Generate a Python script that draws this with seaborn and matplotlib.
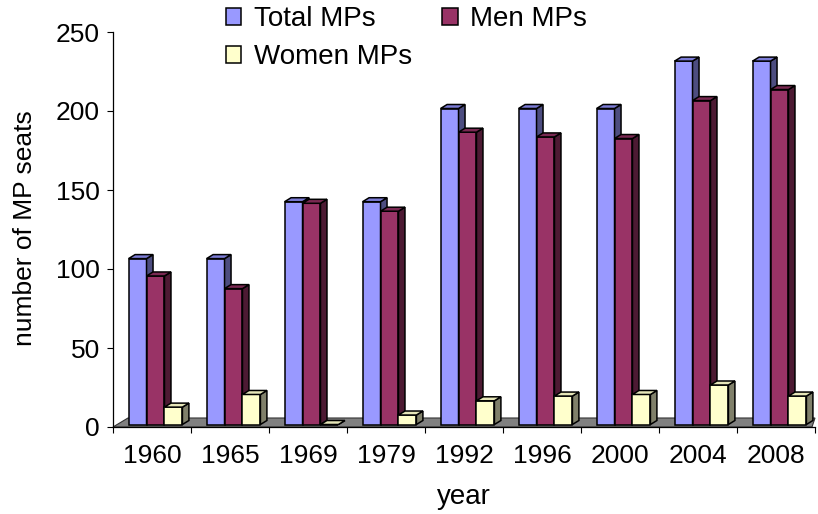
import numpy as np
import pandas as pd
import matplotlib
matplotlib.use("Agg")
import matplotlib.pyplot as plt
import matplotlib.transforms as mtransforms
from matplotlib.patches import Polygon, Patch
import seaborn as sns

years = ["1960", "1965", "1969", "1979", "1992", "1996", "2000", "2004", "2008"]
total_mps = [105, 105, 141, 141, 200, 200, 200, 230, 230]
men_mps = [94, 86, 140, 135, 185, 182, 181, 205, 212]
women_mps = [11, 19, 0, 6, 15, 18, 19, 25, 18]
series = ["Total MPs", "Men MPs", "Women MPs"]
y_ticks = [0, 50, 100, 150, 200, 250]

colors = ["#9999FF", "#993366", "#FFFFCC"]
side_colors = ["#4D4D80", "#4D1A33", "#80806A"]
top_colors = ["#7C7CD6", "#7A2952", "#E6E6B8"]

df = pd.DataFrame({
    "year": years * 3,
    "series": np.repeat(series, len(years)),
    "seats": total_mps + men_mps + women_mps,
})

sns.set_style("white")
plt.rcParams["font.family"] = ["Liberation Sans", "DejaVu Sans"]

W, H = 818, 514
fig = plt.figure(figsize=(W / 100, H / 100), dpi=100)
# axes box in pixels: x 113..815, y 32..427
ax = fig.add_axes([113 / W, (H - 427) / H, 702 / W, 395 / H])

sns.barplot(data=df, x="year", y="seats", hue="series", order=years,
            hue_order=series, palette=colors, saturation=1, width=0.69,
            errorbar=None, edgecolor="black", linewidth=1.1, legend=False, ax=ax)

ax.set_xlim(-0.5, len(years) - 0.5)
ax.set_ylim(0, 250)

# fake 3D look: floor, shifted front faces, side and top faces
fx = lambda px: (px - 113) / 702
fy = lambda py: (427 - py) / 395
floor = Polygon([(fx(113), fy(427)), (fx(812), fy(427)), (fx(815), fy(418)), (fx(128), fy(418))],
                closed=True, facecolor="#808080", edgecolor="#333333", linewidth=0.8,
                transform=ax.transAxes, clip_on=False, zorder=1)
ax.add_patch(floor)

shift = mtransforms.ScaledTranslation(3.5 / 100, 2.5 / 100, fig.dpi_scale_trans)
trans = ax.transData + shift
inv = ax.transData.inverted()
dx, dy = 6.5, 4.0

for i, cont in enumerate(ax.containers):
    for bar in cont:
        bar.set_transform(trans)
        bar.set_zorder(3 + i)
        bar.set_clip_on(False)
        x0, w, h = bar.get_x(), bar.get_width(), bar.get_height()
        p = trans.transform([(x0, 0), (x0 + w, 0), (x0 + w, h), (x0, h)])
        side = [p[1], p[1] + (dx, dy), p[2] + (dx, dy), p[2]]
        top = [p[3], p[2], p[2] + (dx, dy), p[3] + (dx, dy)]
        for pts, c in [(side, side_colors[i]), (top, top_colors[i])]:
            ax.add_patch(Polygon(inv.transform(pts), closed=True, facecolor=c,
                                 edgecolor="black", linewidth=1.1,
                                 zorder=3 + i, clip_on=False))

# axes, ticks, labels
for s in ["top", "right"]:
    ax.spines[s].set_visible(False)
ax.spines["left"].set_color("black")
ax.spines["bottom"].set_color("black")
ax.spines["left"].set_linewidth(0.9)
ax.spines["bottom"].set_linewidth(0.9)

ax.set_yticks(y_ticks)
ax.tick_params(axis="y", which="major", direction="out", length=4.3, width=0.8,
               pad=5, labelsize=19, left=True, color="black", labelcolor="black")
ax.set_xticks(np.arange(-0.5, len(years)), minor=False)
ax.set_xticklabels([])
ax.set_xticks(np.arange(len(years)), minor=True)
ax.set_xticklabels(years, minor=True)
ax.tick_params(axis="x", which="major", direction="out", length=4.3, width=0.8,
               bottom=True, color="black")
ax.tick_params(axis="x", which="minor", length=0, pad=12, labelsize=19, labelcolor="black")

ax.set_xlabel("year", fontsize=20, color="black")
ax.set_ylabel("number of MP seats", fontsize=19, color="black")
ax.xaxis.label.set_va("center")
ax.yaxis.label.set_va("center")
ax.xaxis.set_label_coords(0.5, fy(497))
ax.yaxis.set_label_coords(fx(25), fy(228))

handles = [Patch(facecolor=colors[k], edgecolor="black", linewidth=1.1, label=series[k])
           for k in (0, 2, 1)]
fig.legend(handles=handles, ncol=2, loc="upper left", bbox_to_anchor=(226 / W, 1 - 6 / H),
           frameon=False, fontsize=20, handlelength=0.55, handleheight=0.55,
           handletextpad=0.45, columnspacing=1.1, labelspacing=0.45,
           borderpad=0, borderaxespad=0, labelcolor="black")

fig.savefig("out.png", dpi=100)
